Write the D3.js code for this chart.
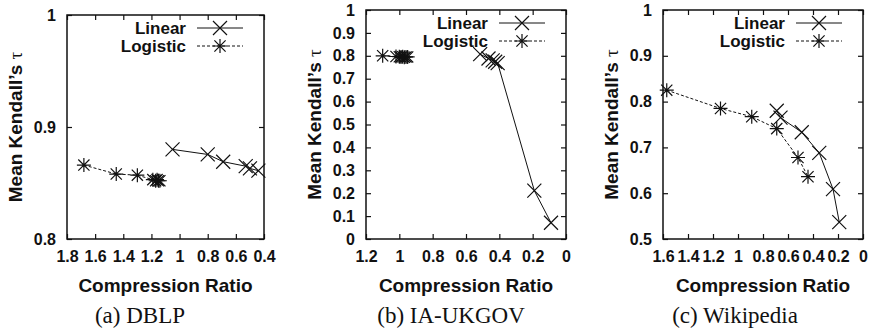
<!DOCTYPE html>
<html>
<head>
<meta charset="utf-8">
<script src="https://cdn.jsdelivr.net/npm/d3@7"></script>
<style>
  body { margin: 0; background: #fff; }
  svg { display: block; }
  .tick text { font-family: "Liberation Sans", Arial, sans-serif; font-weight: bold; font-size: 16px; fill: #111; }
  .tick line { stroke: #111; stroke-width: 1.2; }
</style>
</head>
<body>
<div id="chart"></div>
<script>
// data
var dblpLinear = [[1.05, 0.880], [0.80, 0.8755], [0.69, 0.869], [0.53, 0.865], [0.50, 0.863], [0.44, 0.861]];
var dblpLogistic = [[1.68, 0.866], [1.45, 0.858], [1.30, 0.857], [1.19, 0.853], [1.17, 0.852], [1.16, 0.853], [1.15, 0.852], [1.14, 0.852]];

var ukgovLinear = [[0.515, 0.807], [0.465, 0.788], [0.44, 0.780], [0.425, 0.774], [0.41, 0.768], [0.19, 0.211], [0.09, 0.071]];
var ukgovLogistic = [[1.10, 0.800], [1.02, 0.797], [1.00, 0.796], [0.99, 0.795], [0.98, 0.796], [0.97, 0.794], [0.96, 0.795], [0.95, 0.795]];

var wikiLinear = [[0.69, 0.780], [0.66, 0.765], [0.49, 0.733], [0.35, 0.688], [0.24, 0.609], [0.19, 0.537]];
var wikiLogistic = [[1.57, 0.825], [1.14, 0.785], [0.89, 0.767], [0.69, 0.741], [0.52, 0.678], [0.44, 0.636]];

var dblpXTicks = [1.8, 1.6, 1.4, 1.2, 1, 0.8, 0.6, 0.4];
var dblpYTicks = [0.8, 0.9, 1];
var ukgovXTicks = [1.2, 1, 0.8, 0.6, 0.4, 0.2, 0];
var ukgovYTicks = [0, 0.1, 0.2, 0.3, 0.4, 0.5, 0.6, 0.7, 0.8, 0.9, 1];
var wikiXTicks = [1.6, 1.4, 1.2, 1, 0.8, 0.6, 0.4, 0.2, 0];
var wikiYTicks = [0.5, 0.6, 0.7, 0.8, 0.9, 1];

var seriesNames = ["Linear", "Logistic"];
var captions = ["(a) DBLP", "(b) IA-UKGOV", "(c) Wikipedia"];

var svgWidth = 873;
var svgHeight = 331;

var svg = d3.select("#chart")
    .append("svg")
    .attr("width", svgWidth)
    .attr("height", svgHeight);

var panels = [
  { box: [67, 264, 15, 239], xDom: [1.8, 0.4], yDom: [0.8, 1], xTicks: dblpXTicks, yTicks: dblpYTicks,
    lin: dblpLinear, log: dblpLogistic, caption: captions[0], capX: 140 },
  { box: [366, 566, 10, 239], xDom: [1.2, 0], yDom: [0, 1], xTicks: ukgovXTicks, yTicks: ukgovYTicks,
    lin: ukgovLinear, log: ukgovLogistic, caption: captions[1], capX: 451 },
  { box: [663, 863, 10, 239], xDom: [1.6, 0], yDom: [0.5, 1], xTicks: wikiXTicks, yTicks: wikiYTicks,
    lin: wikiLinear, log: wikiLogistic, caption: captions[2], capX: 735 }
];

// marker paths
function crossPath(h) {
  return `M${-h},${-h}L${h},${h}M${-h},${h}L${h},${-h}`;
}
function starPath(h) {
  var d = h * 0.8;
  return `M${-d},${-d}L${d},${d}M${-d},${d}L${d},${-d}M0,${-h}L0,${h}M${-h},0L${h},0`;
}

function drawPanel(p) {
  var left = p.box[0], right = p.box[1], top = p.box[2], bottom = p.box[3];

  var x = d3.scaleLinear().domain(p.xDom).range([left, right]);
  var y = d3.scaleLinear().domain(p.yDom).range([bottom, top]);

  var g = svg.append("g");

  // axes, ticks pointing inward on all sides
  g.append("g")
    .attr("transform", `translate(0, ${bottom})`)
    .call(d3.axisBottom(x).tickValues(p.xTicks).tickSizeInner(-5).tickSizeOuter(0).tickPadding(12).tickFormat(d => d))
    .call(a => a.select(".domain").remove());
  g.append("g")
    .attr("transform", `translate(0, ${top})`)
    .call(d3.axisTop(x).tickValues(p.xTicks).tickSizeInner(-5).tickSizeOuter(0).tickFormat(""))
    .call(a => a.select(".domain").remove());
  g.append("g")
    .attr("transform", `translate(${left}, 0)`)
    .call(d3.axisLeft(y).tickValues(p.yTicks).tickSizeInner(-5).tickSizeOuter(0).tickPadding(11).tickFormat(d => d))
    .call(a => a.select(".domain").remove());
  g.append("g")
    .attr("transform", `translate(${right}, 0)`)
    .call(d3.axisRight(y).tickValues(p.yTicks).tickSizeInner(-5).tickSizeOuter(0).tickFormat(""))
    .call(a => a.select(".domain").remove());

  g.append("rect")
    .attr("x", left).attr("y", top)
    .attr("width", right - left).attr("height", bottom - top)
    .attr("fill", "none").attr("stroke", "#111").attr("stroke-width", 1.5);

  var line = d3.line().x(d => x(d[0])).y(d => y(d[1]));

  // logistic series (dashed, asterisks)
  g.append("path").datum(p.log)
    .attr("d", line).attr("fill", "none").attr("stroke", "#111")
    .attr("stroke-width", 1).attr("stroke-dasharray", "3,2");
  g.selectAll(".logm").data(p.log).enter().append("path")
    .attr("transform", d => `translate(${x(d[0])}, ${y(d[1])})`)
    .attr("d", starPath(7)).attr("fill", "none").attr("stroke", "#111").attr("stroke-width", 1.2);

  // linear series (solid, crosses)
  g.append("path").datum(p.lin)
    .attr("d", line).attr("fill", "none").attr("stroke", "#111").attr("stroke-width", 1);
  g.selectAll(".linm").data(p.lin).enter().append("path")
    .attr("transform", d => `translate(${x(d[0])}, ${y(d[1])})`)
    .attr("d", crossPath(7)).attr("fill", "none").attr("stroke", "#111").attr("stroke-width", 1.2);

  // legend
  seriesNames.forEach(function(name, i) {
    var ly = top + 13 + i * 18;
    g.append("text")
      .attr("x", right - 78).attr("y", ly).attr("dy", "0.35em")
      .attr("text-anchor", "end")
      .style("font-family", "Liberation Sans, Arial, sans-serif")
      .style("font-weight", "bold").style("font-size", "17px").style("fill", "#111")
      .text(name);
    g.append("line")
      .attr("x1", right - 67).attr("x2", right - 21).attr("y1", ly).attr("y2", ly)
      .attr("stroke", "#111").attr("stroke-width", 1)
      .attr("stroke-dasharray", i === 0 ? null : "3,2");
    g.append("path")
      .attr("transform", `translate(${right - 44}, ${ly})`)
      .attr("d", i === 0 ? crossPath(7) : starPath(7))
      .attr("fill", "none").attr("stroke", "#111").attr("stroke-width", 1.2);
  });

  // axis titles
  g.append("text")
    .attr("x", (left + right) / 2).attr("y", 292)
    .attr("text-anchor", "middle")
    .style("font-family", "Liberation Sans, Arial, sans-serif")
    .style("font-weight", "bold").style("font-size", "19px").style("fill", "#111")
    .text("Compression Ratio");

  var yt = g.append("text")
    .attr("transform", `translate(${left - 52}, ${(top + bottom) / 2}) rotate(-90)`)
    .attr("dy", "0.35em")
    .attr("text-anchor", "middle")
    .style("font-family", "Liberation Sans, Arial, sans-serif")
    .style("font-weight", "bold").style("font-size", "19px").style("fill", "#111");
  yt.append("tspan").text("Mean Kendall\u2019s ");
  yt.append("tspan").style("font-weight", "normal").style("font-family", "Liberation Serif, serif").text("\u03c4");

  // caption
  g.append("text")
    .attr("x", p.capX).attr("y", 323)
    .attr("text-anchor", "middle")
    .style("font-family", "Liberation Serif, Times New Roman, serif")
    .style("font-size", "23px").style("fill", "#111")
    .text(p.caption);
}

panels.forEach(drawPanel);
</script>
</body>
</html>
